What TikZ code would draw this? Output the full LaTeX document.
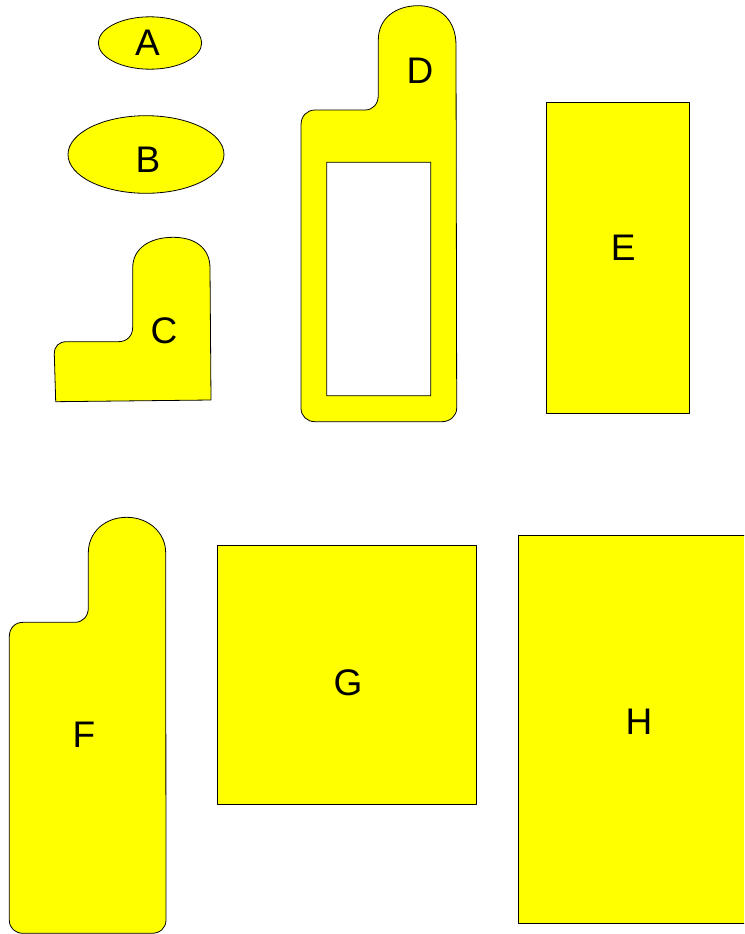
\documentclass[tikz,border=0pt]{standalone}
\usepackage{fontspec}
\setmainfont{Liberation Sans}
\definecolor{pieceyellow}{RGB}{255,255,0}
\begin{document}
\begin{tikzpicture}[x=1pt,y=-1pt,
  piece/.style={draw=black,line width=0.8pt,fill=pieceyellow,line join=round},
  lbl/.style={font=\fontsize{37}{40}\selectfont,inner sep=0pt,text=black}]
\clip (0,0) rectangle (744,934);
\fill[white] (0,0) rectangle (744,934);
% A and B
\draw[piece] (150,43) ellipse [x radius=51.7,y radius=26.2];
\draw[piece] (146,154.5) ellipse [x radius=78,y radius=38.8];
% C
\draw[piece] (55.7,401.7) -- (211,400) -- (210,268)
  .. controls (210,248) and (195,237.3) .. (173.3,237.3)
  .. controls (150,237.3) and (132.7,248) .. (132.7,268)
  -- (132.7,327) .. controls (132.7,336) and (127,341.7) .. (118.3,341.7)
  -- (66.7,341.7) .. controls (59,341.7) and (54.3,346) .. (54.3,354) -- cycle;
% D
\draw[piece,even odd rule] (378.3,95) -- (378.3,40)
  .. controls (378.3,18) and (396,5.7) .. (418.3,5.7)
  .. controls (440,5.7) and (456,20) .. (456,45)
  -- (456.7,408) .. controls (456.7,416) and (450,421.7) .. (441.7,421.7)
  -- (315,421.7) .. controls (307,421.7) and (301,416) .. (301,408.3)
  -- (301,125) .. controls (301,116) and (307,110) .. (315,110)
  -- (365,110) .. controls (373,110) and (378.3,104) .. (378.3,95) -- cycle
  (326.7,162.3) rectangle (430.7,395.7);
% E
\draw[piece] (546.7,102.3) rectangle (689.3,413.3);
% F
\draw[piece] (88.3,608) -- (88.3,553)
  .. controls (88.3,532) and (105,517.3) .. (126.7,517.3)
  .. controls (148,517.3) and (165.7,532) .. (165.7,553)
  -- (166,920) .. controls (166,928) and (160,933.3) .. (151.7,933.3)
  -- (23.3,933.3) .. controls (15,933.3) and (9.3,928) .. (9.3,920)
  -- (9.3,636.7) .. controls (9.3,628) and (15,622.3) .. (23.3,622.3)
  -- (75,622.3) .. controls (83,622.3) and (88.3,616) .. (88.3,608) -- cycle;
% G and H
\draw[piece] (217.4,545) rectangle (476.5,804.3);
\draw[piece] (518.7,535) rectangle (760,923.3);
% labels
\node[lbl] (la) at (147.5,42.5) {A};
\node[lbl] (lb) at (148,159.5) {B};
\node[lbl] (lc) at (164,331) {C};
\node[lbl] (ld) at (420,70.3) {D};
\node[lbl] (le) at (623.3,248) {E};
\node[lbl] (lf) at (84,735) {F};
\node[lbl] (lg) at (348,683) {G};
\node[lbl] (lh) at (639,722) {H};
\end{tikzpicture}
\end{document}
